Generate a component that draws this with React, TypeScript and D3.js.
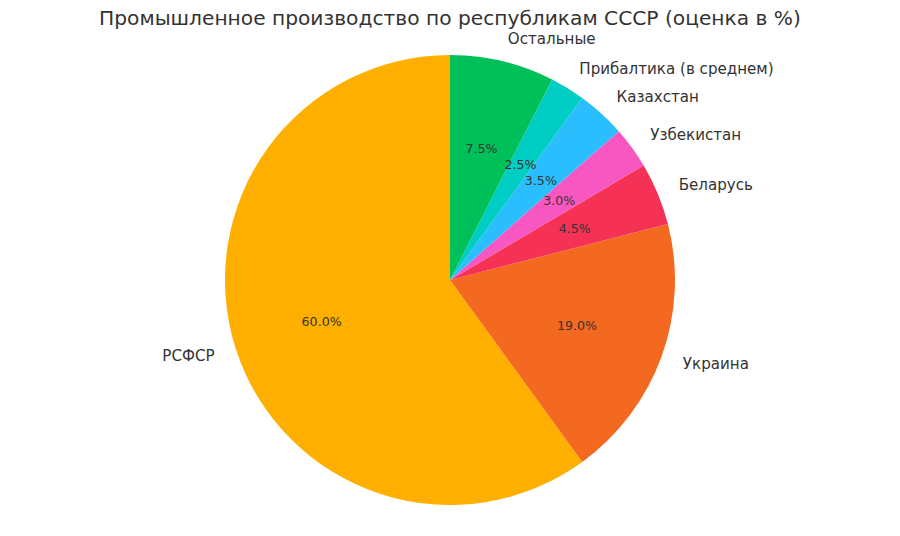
import React from "react";
import * as d3 from "d3";

const categories: string[] = ["РСФСР", "Украина", "Беларусь", "Узбекистан", "Казахстан", "Прибалтика (в среднем)", "Остальные"];
const values: number[] = [60.0, 19.0, 4.5, 3.0, 3.5, 2.5, 7.5];
const colors: string[] = ["#FFAF00", "#F46920", "#F53255", "#F857C1", "#2BBEFF", "#00CEC4", "#00C05A"];
const title = "Промышленное производство по республикам СССР (оценка в %)";

const W = 900;
const H = 536;
const cx = 450;
const cy = 280;
const R = 225;
const FONT = "DejaVu Sans, sans-serif";

export default function App() {
  const total = d3.sum(values);
  const pie = d3
    .pie<number>()
    .sort(null)
    .value((d) => d)
    .startAngle(0)
    .endAngle(-2 * Math.PI);
  const arcs = pie(values);
  const arcGen = d3.arc<d3.PieArcDatum<number>>().innerRadius(0).outerRadius(R);

  return (
    <svg width={W} height={H} style={{ position: "absolute", left: 0, top: 0, background: "#fff" }}>
      <text x={W / 2} y={18} textAnchor="middle" dominantBaseline="central" fontFamily={FONT} fontSize={20.2} fill="#333">
        {title}
      </text>
      <g transform={`translate(${cx},${cy})`}>
        {arcs.map((a, i) => (
          <path key={i} d={arcGen(a) || ""} fill={colors[i]} />
        ))}
        {arcs.map((a, i) => {
          const mid = (a.startAngle + a.endAngle) / 2;
          const lx = Math.sin(mid) * R * 1.1;
          const ly = -Math.cos(mid) * R * 1.1;
          const px = Math.sin(mid) * R * 0.6;
          const py = -Math.cos(mid) * R * 0.6;
          return (
            <g key={"t" + i}>
              <text
                x={lx}
                y={ly}
                textAnchor={lx > 0 ? "start" : "end"}
                dominantBaseline="central"
                fontFamily={FONT}
                fontSize={15.1}
                fill="#333"
              >
                {categories[i]}
              </text>
              <text x={px} y={py} textAnchor="middle" dominantBaseline="central" fontFamily={FONT} fontSize={12.6} fill="#333">
                {((values[i] / total) * 100).toFixed(1)}%
              </text>
            </g>
          );
        })}
      </g>
    </svg>
  );
}
